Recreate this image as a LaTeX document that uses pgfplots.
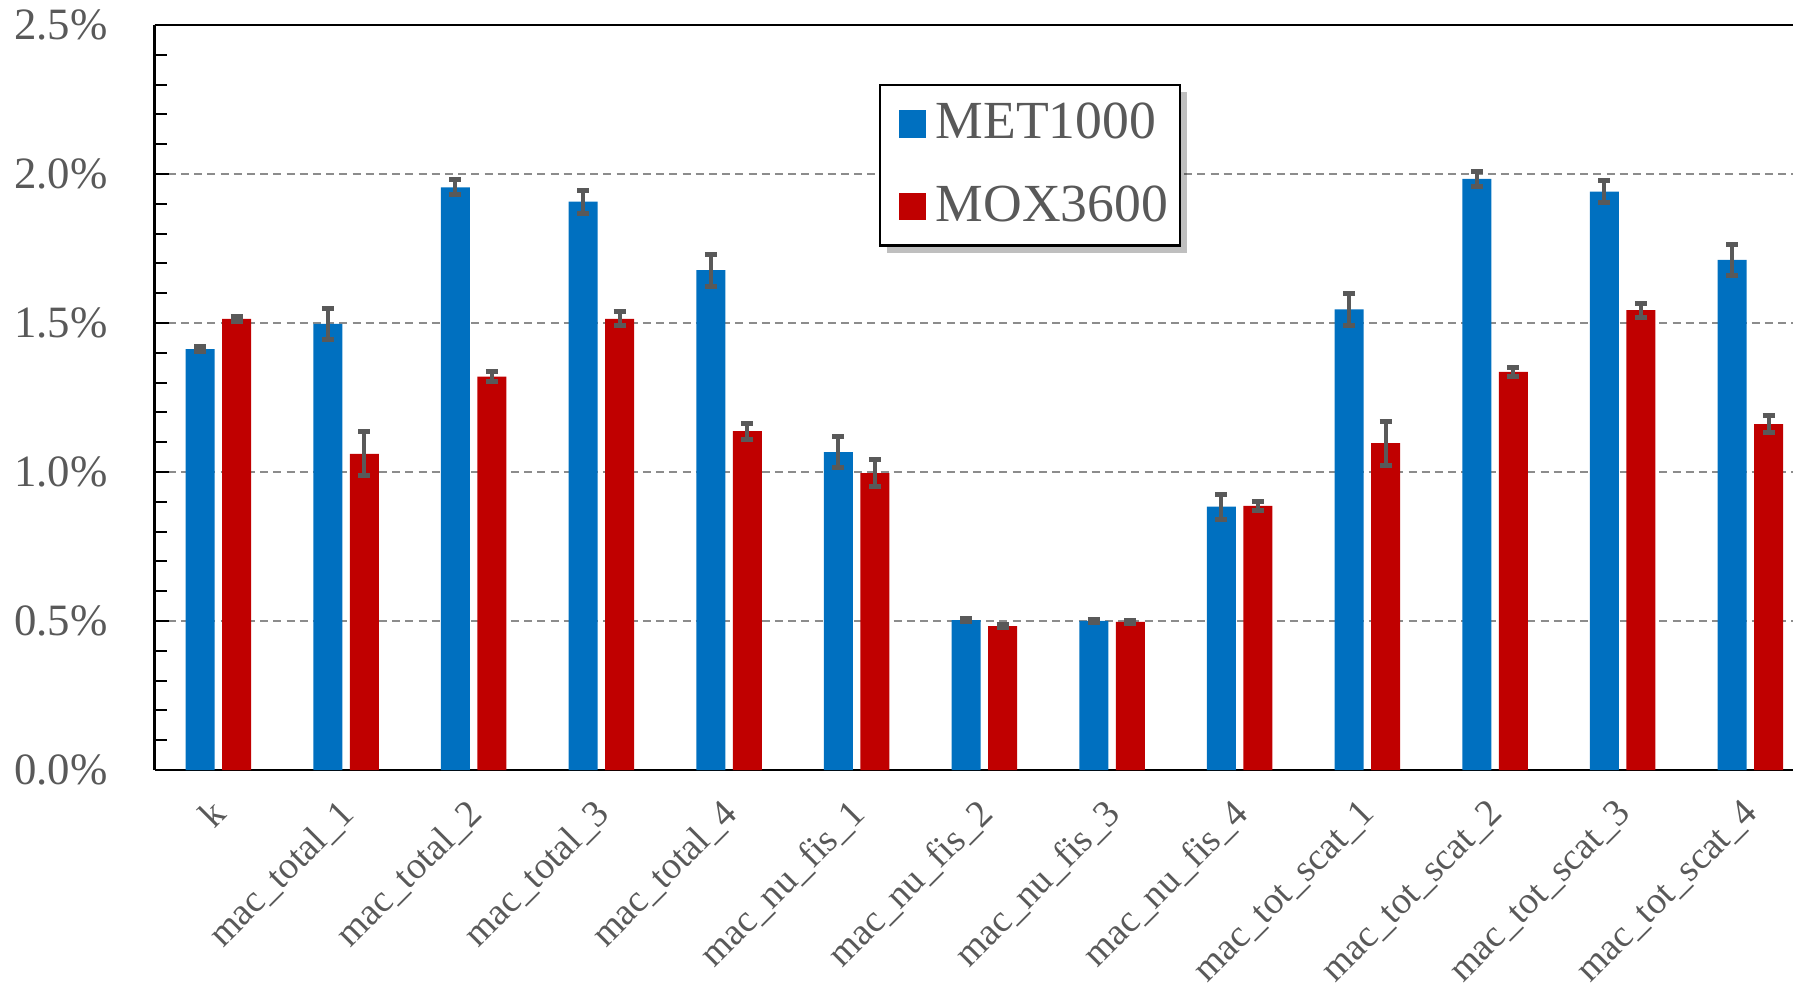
\documentclass[border=0pt]{standalone}
\usepackage{fontspec}
\setmainfont{Liberation Serif}
\usepackage{pgfplots}
\usepackage{pgfplotstable}
\pgfplotsset{compat=1.18}
\usetikzlibrary{shadows}

\makeatletter
% keep the legend's drop shadow on the frame only
\tikzset{no preactions/.code={\let\tikz@preactions\pgfutil@empty}}
\makeatother

\definecolor{metblue}{HTML}{0070C0}
\definecolor{moxred}{HTML}{C00000}
\definecolor{txtgray}{HTML}{595959}
\definecolor{errgray}{HTML}{595959}
\definecolor{gridgray}{HTML}{8C8C8C}

% relative uncertainty (%) and its error, per parameter
\pgfplotstableread{
idx val err
0 1.412 0.008
1 1.497 0.053
2 1.955 0.025
3 1.907 0.038
4 1.677 0.053
5 1.067 0.051
6 0.503 0.006
7 0.500 0.006
8 0.884 0.042
9 1.546 0.053
10 1.984 0.025
11 1.941 0.037
12 1.712 0.053
}\metdata

\pgfplotstableread{
idx val err
0 1.514 0.008
1 1.061 0.074
2 1.320 0.016
3 1.514 0.023
4 1.137 0.027
5 0.996 0.045
6 0.483 0.006
7 0.497 0.004
8 0.886 0.015
9 1.097 0.074
10 1.336 0.016
11 1.543 0.023
12 1.161 0.027
}\moxdata

\begin{document}
\begin{tikzpicture}
\begin{axis}[
  name=ax,
  scale only axis,
  width=409.625pt, height=186.25pt,
  xmin=-0.5, xmax=12.334,
  ymin=0, ymax=2.5,
  ybar, bar width=7.25pt,
  axis x line*=box, axis y line*=left,
  axis line style={line width=0.6pt, black},
  xtick={0,...,12},
  xticklabels={k, mac\_total\_1, mac\_total\_2, mac\_total\_3, mac\_total\_4,
    mac\_nu\_fis\_1, mac\_nu\_fis\_2, mac\_nu\_fis\_3, mac\_nu\_fis\_4,
    mac\_tot\_scat\_1, mac\_tot\_scat\_2, mac\_tot\_scat\_3, mac\_tot\_scat\_4},
  major x tick style={draw=none},
  xticklabel style={xshift=-2.2pt, yshift=-6.5pt, rotate=45, anchor=north east,
    inner sep=0pt, font=\fontsize{9.5}{11}\selectfont, text=txtgray},
  ytick={0,0.5,...,2.5},
  minor y tick num=4,
  tick align=inside,
  major tick length=3.5pt, minor tick length=3pt,
  every tick/.style={black, line width=0.5pt},
  yticklabel={\pgfmathprintnumber[assume math mode=true, fixed, fixed zerofill, precision=1]{\tick}\%},
  yticklabel style={anchor=east, inner sep=0pt, xshift=-11.5pt,
    font=\fontsize{11.2}{13}\selectfont, text=txtgray},
  ymajorgrids,
  major grid style={gridgray, line width=0.5pt, dash pattern=on 2pt off 1.3pt},
  legend style={at={(axis cs:5.175,2.302)}, anchor=north west,
    draw=black, line width=0.6pt, fill=white,
    drop shadow={shadow xshift=1.8pt, shadow yshift=-1.8pt, fill=black, opacity=0.25},
    nodes={no preactions, inner xsep=2.5pt},
    font=\fontsize{13.4}{15}\selectfont, text=txtgray,
    inner xsep=0.5pt, inner ysep=2.5pt, row sep=6.3pt, column sep=0pt,
    cells={anchor=west}},
  legend image code/.code={%
    \path (0pt,0pt);
    \fill[no preactions,#1] (4.1pt,-3.4pt) rectangle (10.9pt,3.4pt);},
  error bars/error bar style={line width=1pt, errgray},
  error bars/error mark options={rotate=90, line width=1.25pt, mark size=1.5pt, errgray},
]
\addplot[fill=metblue, draw=none, bar shift=-4.56pt,
  error bars/.cd, y dir=both, y explicit]
  table[x=idx, y=val, y error=err] {\metdata};
\addlegendentry{MET1000}
\addplot[fill=moxred, draw=none, bar shift=4.56pt,
  error bars/.cd, y dir=both, y explicit]
  table[x=idx, y=val, y error=err] {\moxdata};
\addlegendentry{MOX3600}
\end{axis}
\pgfresetboundingbox
\path[use as bounding box] ([xshift=-38.625pt, yshift=-53.25pt]ax.south west)
  rectangle ([yshift=6.25pt]ax.north east);
\end{tikzpicture}
\end{document}
